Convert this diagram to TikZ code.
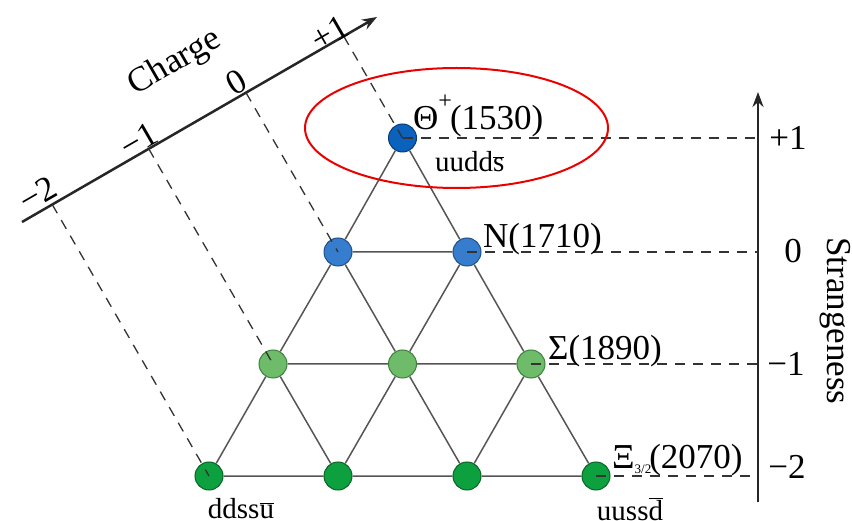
\documentclass[tikz,border=0pt]{standalone}
\usepackage{fontspec}
\setmainfont{Liberation Serif}
\usetikzlibrary{calc,arrows.meta}
\definecolor{blueA}{RGB}{10,98,188}
\definecolor{blueAd}{RGB}{10,60,120}
\definecolor{blueB}{RGB}{55,125,205}
\definecolor{blueBd}{RGB}{30,80,140}
\definecolor{greenA}{RGB}{110,188,105}
\definecolor{greenAd}{RGB}{60,130,60}
\definecolor{greenB}{RGB}{12,160,62}
\definecolor{greenBd}{RGB}{10,100,40}
\definecolor{linegray}{RGB}{85,85,85}
\definecolor{ellred}{RGB}{235,0,0}
\newcommand\qbar[1]{\ensuremath{\overline{\mbox{#1}}}}
\begin{document}
\begin{tikzpicture}[x=1pt,y=-1pt,
  part/.style={circle,minimum size=28pt,inner sep=0pt,line width=1pt},
  pTop/.style={part,fill=blueA,draw=blueAd},
  pZero/.style={part,fill=blueB,draw=blueBd},
  pMone/.style={part,fill=greenA,draw=greenAd},
  pMtwo/.style={part,fill=greenB,draw=greenBd},
  edge/.style={draw=linegray,line width=1.5pt},
  dsh/.style={draw=black!80,line width=1.3pt,dash pattern=on 10pt off 8pt},
  axisline/.style={draw=black!85,line width=2.5pt,-{Stealth[length=15pt,width=11pt]}},
  lbl/.style={font=\fontsize{35}{40}\selectfont,inner sep=0pt},
  qlbl/.style={font=\fontsize{29}{32}\selectfont,inner sep=0pt}]
\useasboundingbox (0,0) rectangle (852,521);

% lattice nodes
\node[pTop]  (top) at (402.5,138) {};
\node[pZero] (z0) at (338,252) {};
\node[pZero] (z1) at (467,252) {};
\node[pMone] (m0) at (273,364) {};
\node[pMone] (m1) at (402.5,364) {};
\node[pMone] (m2) at (531,364) {};
\node[pMtwo] (b0) at (209,476) {};
\node[pMtwo] (b1) at (338,476) {};
\node[pMtwo] (b2) at (467,476) {};
\node[pMtwo] (b3) at (596,476) {};

% lattice edges
\path[edge] (b0)--(b1) (b1)--(b2) (b2)--(b3)
  (m0)--(m1) (m1)--(m2) (z0)--(z1)
  (b0)--(m0) (m0)--(z0) (z0)--(top)
  (b1)--(m1) (m1)--(z1)
  (b2)--(m2)
  (b3)--(m2) (m2)--(z1) (z1)--(top)
  (b2)--(m1) (m1)--(z0)
  (b1)--(m0);

% charge axis
\coordinate (chS) at (22,222);
\coordinate (chE) at (377,17);
\draw[axisline] (chS) -- (chE);
\coordinate (qm2) at ($(chS)!(b0)!(chE)$);
\coordinate (qm1) at ($(chS)!(m0)!(chE)$);
\coordinate (q0)  at ($(chS)!(z0)!(chE)$);
\coordinate (qp1) at ($(chS)!(top)!(chE)$);
\draw[dsh] (qm2) -- (b0.center);
\draw[dsh] (qm1) -- (m0.center);
\draw[dsh] (q0)  -- (z0.center);
\draw[dsh] (qp1) -- (top.center);
\node[lbl,rotate=30] (lcm2) at (38,194) {−2};
\node[lbl,rotate=30] (lcm1) at (139,140) {−1};
\node[lbl,rotate=30] (lc0)  at (236,82) {0};
\node[lbl,rotate=30] (lcp1) at (330,33) {+1};
\node[lbl,rotate=30] (lch)  at (175,63) {Charge};

% strangeness axis
\coordinate (sB) at (758,502);
\coordinate (sT) at (758,92);
\draw[axisline] (sB) -- (sT);
\draw[dsh] (top.center) -- (top.center -| sB);
\draw[dsh] (z1.center) -- (z1.center -| sB);
\draw[dsh] (m2.center) -- (m2.center -| sB);
\draw[dsh] (b3.center) -- (b3.center -| sB);
\node[lbl,anchor=base] (ls1)  at (788,150) {+1};
\node[lbl,anchor=base] (ls0)  at (793,263) {0};
\node[lbl,anchor=base] (lsm1) at (786,376) {−1};
\node[lbl,anchor=base] (lsm2) at (787,478) {−2};
\node[lbl,rotate=-90] (lstr) at (835,321) {Strangeness};

% particle labels
\node[lbl,anchor=base west] (lth) at (413,130)
  {Θ\raisebox{21pt}{\fontsize{24}{26}\selectfont+}\kern-2pt(1530)};
\node[qlbl,anchor=base west] (qth) at (435,172) {uudd\qbar{s}};
\node[lbl,anchor=base west] (lN) at (483,248) {N(1710)};
\node[lbl,anchor=base west] (lS) at (548,360) {Σ(1890)};
\node[lbl,anchor=base west] (lX) at (612,468)
  {Ξ\raisebox{-5pt}{\fontsize{13}{14}\selectfont 3/2}\kern-2pt(2070)};
\node[qlbl,anchor=base] (qb0) at (241,518) {ddss\qbar{u}};
\node[qlbl,anchor=base] (qb3) at (630,520) {uuss\qbar{d}};

% highlight ellipse
\draw[ellred,line width=2pt] (456.5,128) ellipse [x radius=151.5, y radius=60];
\end{tikzpicture}
\end{document}
